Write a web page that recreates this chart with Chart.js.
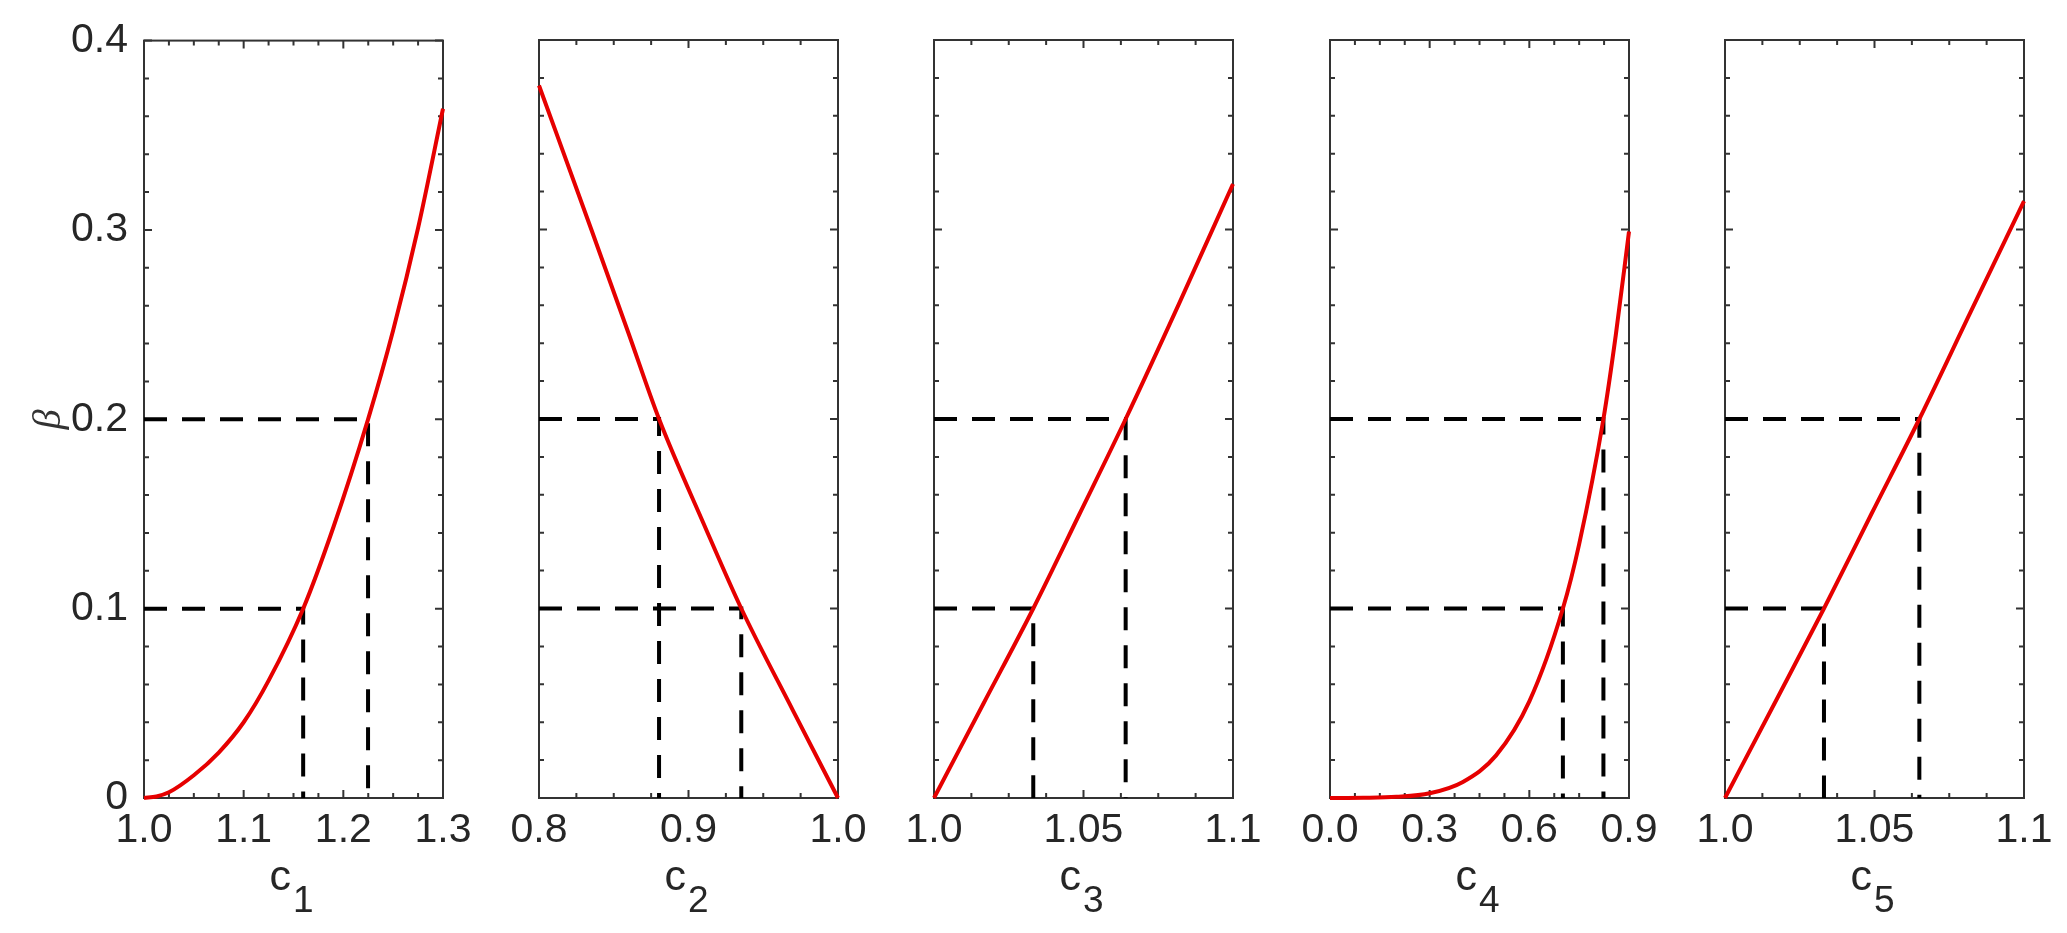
<!DOCTYPE html>
<html>
<head>
<meta charset="utf-8">
<script src="https://cdn.jsdelivr.net/npm/chart.js@4.4.1/dist/chart.umd.min.js"></script>
<style>
  html, body { margin: 0; padding: 0; background: #fff; overflow: hidden; }
  body { width: 2067px; height: 933px; position: relative; }
  canvas { position: absolute; top: 0; }
</style>
</head>
<body>
<canvas id="p1"></canvas>
<canvas id="p2"></canvas>
<canvas id="p3"></canvas>
<canvas id="p4"></canvas>
<canvas id="p5"></canvas>
<script>
// ---- values ----
const c1 = [1.0, 1.0125, 1.025, 1.05, 1.075, 1.1, 1.125, 1.1597, 1.19, 1.2248, 1.25, 1.275, 1.3];
const beta1 = [0, 0.0008, 0.003, 0.012, 0.024, 0.040, 0.062, 0.100, 0.143, 0.200, 0.247, 0.301, 0.364];

const c2 = [0.8, 0.835, 0.86, 0.8803, 0.91, 0.9353, 0.97, 1.0];
const beta2 = [0.376, 0.300, 0.245, 0.200, 0.145, 0.100, 0.046, 0];

const c3 = [1.0, 1.0166, 1.0332, 1.0487, 1.0641, 1.082, 1.1];
const beta3 = [0, 0.05, 0.100, 0.150, 0.200, 0.261, 0.324];

const c4 = [0, 0.1, 0.2, 0.3, 0.4, 0.5, 0.6, 0.701, 0.75, 0.823, 0.86, 0.9];
const beta4 = [0, 0.0001, 0.0006, 0.0025, 0.0085, 0.0225, 0.051, 0.100, 0.134, 0.200, 0.244, 0.299];

const c5 = [1.0, 1.0166, 1.0331, 1.049, 1.065, 1.082, 1.1];
const beta5 = [0, 0.05, 0.100, 0.150, 0.200, 0.256, 0.315];

// dashed guide lines: beta levels and the c where each curve reaches them
const guideLevels = [0.1, 0.2];
const guide1 = [1.1597, 1.2248];
const guide2 = [0.9353, 0.8803];
const guide3 = [1.0332, 1.0641];
const guide4 = [0.701, 0.823];
const guide5 = [1.0331, 1.065];

// tick values and labels
const yTicks = [0, 0.1, 0.2, 0.3, 0.4];
const yTickLabels = ["0", "0.1", "0.2", "0.3", "0.4"];
const xTicks1 = [1.0, 1.1, 1.2, 1.3];
const xTickLabels1 = ["1.0", "1.1", "1.2", "1.3"];
const xTicks2 = [0.8, 0.9, 1.0];
const xTickLabels2 = ["0.8", "0.9", "1.0"];
const xTicks3 = [1.0, 1.05, 1.1];
const xTickLabels3 = ["1.0", "1.05", "1.1"];
const xTicks4 = [0, 0.3, 0.6, 0.9];
const xTickLabels4 = ["0.0", "0.3", "0.6", "0.9"];
const xTicks5 = [1.0, 1.05, 1.1];
const xTickLabels5 = ["1.0", "1.05", "1.1"];

const INK = "#262626";
const FONT = "'Liberation Sans', Arial, sans-serif";

/* ================= FRAME, INWARD TICKS, SUBSCRIPT TITLE ================= */
const boxPlugin = {
  id: "box",
  beforeDatasetsDraw(chart, args, opts) {
    const { ctx, chartArea: a, scales: { x, y } } = chart;
    ctx.save();
    ctx.strokeStyle = "#333";
    ctx.lineWidth = 2;
    ctx.beginPath();
    const tickX = (v, len) => {
      const px = x.getPixelForValue(v);
      ctx.moveTo(px, a.bottom); ctx.lineTo(px, a.bottom - len);
      ctx.moveTo(px, a.top); ctx.lineTo(px, a.top + len);
    };
    const tickY = (v, len) => {
      const py = y.getPixelForValue(v);
      ctx.moveTo(a.left, py); ctx.lineTo(a.left + len, py);
      ctx.moveTo(a.right, py); ctx.lineTo(a.right - len, py);
    };
    const nx = Math.round((x.max - x.min) / opts.minorX);
    for (let i = 0; i <= nx; i++) tickX(x.min + i * opts.minorX, 5);
    const ny = Math.round((y.max - y.min) / 0.02);
    for (let i = 0; i <= ny; i++) tickY(y.min + i * 0.02, 5);
    x.ticks.forEach(t => tickX(t.value, 8));
    y.ticks.forEach(t => tickY(t.value, 8));
    ctx.stroke();
    ctx.strokeRect(a.left, a.top, a.right - a.left, a.bottom - a.top);
    ctx.restore();
  },
  afterDraw(chart, args, opts) {
    const { ctx, chartArea: a } = chart;
    ctx.save();
    ctx.fillStyle = INK;
    ctx.textBaseline = "alphabetic";
    ctx.textAlign = "left";
    ctx.font = "43px " + FONT;
    const wc = ctx.measureText("c").width;
    ctx.font = "37px " + FONT;
    const ws = ctx.measureText(opts.sub).width;
    const x0 = (a.left + a.right) / 2 - (wc + ws) / 2 - 3;
    ctx.font = "43px " + FONT;
    ctx.fillText("c", x0, a.bottom + 92);
    ctx.font = "37px " + FONT;
    ctx.fillText(opts.sub, x0 + wc + 2, a.bottom + 114);
    ctx.restore();
  }
};

const panels = [
  { id: "p1", c: c1, beta: beta1, guide: guide1, min: 1.0, max: 1.3, ticks: xTicks1, labels: xTickLabels1, minorX: 0.025, sub: "1", plotLeft: 144 },
  { id: "p2", c: c2, beta: beta2, guide: guide2, min: 0.8, max: 1.0, ticks: xTicks2, labels: xTickLabels2, minorX: 0.025, sub: "2", plotLeft: 539 },
  { id: "p3", c: c3, beta: beta3, guide: guide3, min: 1.0, max: 1.1, ticks: xTicks3, labels: xTickLabels3, minorX: 0.0125, sub: "3", plotLeft: 934 },
  { id: "p4", c: c4, beta: beta4, guide: guide4, min: 0, max: 0.9, ticks: xTicks4, labels: xTickLabels4, minorX: 0.075, sub: "4", plotLeft: 1330 },
  { id: "p5", c: c5, beta: beta5, guide: guide5, min: 1.0, max: 1.1, ticks: xTicks5, labels: xTickLabels5, minorX: 0.0125, sub: "5", plotLeft: 1725 }
];

const PLOT_W = 299, RIGHT_PAD = 40, TOP = 40, X_AXIS_H = 135;

panels.forEach((p, idx) => {
  const first = idx === 0;
  const leftW = first ? p.plotLeft : 60;
  const canvas = document.getElementById(p.id);
  canvas.width = leftW + PLOT_W + RIGHT_PAD;
  canvas.height = 933;
  canvas.style.left = (p.plotLeft - leftW) + "px";

  const guides = p.guide.map((g, k) => ({
    data: [{ x: p.min, y: guideLevels[k] }, { x: g, y: guideLevels[k] }, { x: g, y: 0 }],
    borderColor: "#000",
    borderWidth: 4,
    borderDash: [23, 15],
    pointRadius: 0,
    tension: 0,
    clip: false
  }));

  new Chart(canvas, {
    type: "line",
    data: {
      datasets: [{
        data: p.c.map((v, i) => ({ x: v, y: p.beta[i] })),
        borderColor: "#e60000",
        borderWidth: 4,
        pointRadius: 0,
        cubicInterpolationMode: "monotone",
        clip: false
      }, ...guides]
    },
    plugins: [boxPlugin],
    options: {
      responsive: false,
      animation: false,
      events: [],
      layout: { padding: { top: TOP, right: RIGHT_PAD, left: 0, bottom: 0 } },
      plugins: {
        legend: { display: false },
        tooltip: { enabled: false },
        box: { minorX: p.minorX, sub: p.sub }
      },
      scales: {
        x: {
          type: "linear",
          min: p.min,
          max: p.max,
          grid: { display: false, drawTicks: false },
          border: { display: false },
          afterBuildTicks: s => { s.ticks = p.ticks.map(v => ({ value: v })); },
          afterFit: s => { s.height = X_AXIS_H; },
          ticks: {
            autoSkip: false,
            maxRotation: 0,
            padding: 8,
            color: INK,
            font: { family: FONT, size: 41 },
            callback: (v, i) => p.labels[i]
          }
        },
        y: {
          min: 0,
          max: 0.4,
          grid: { display: false, drawTicks: false },
          border: { display: false },
          afterBuildTicks: s => { s.ticks = yTicks.map(v => ({ value: v })); },
          afterFit: s => { s.width = leftW; },
          ticks: {
            display: first,
            padding: 16,
            color: INK,
            font: { family: FONT, size: 41 },
            callback: (v, i) => yTickLabels[i]
          },
          title: {
            display: first,
            text: "β",
            color: "#333",
            font: { family: "'Liberation Serif', 'DejaVu Serif', serif", size: 40, style: "italic" },
            padding: { top: 25, bottom: 0 }
          }
        }
      }
    }
  });
});
</script>
</body>
</html>
